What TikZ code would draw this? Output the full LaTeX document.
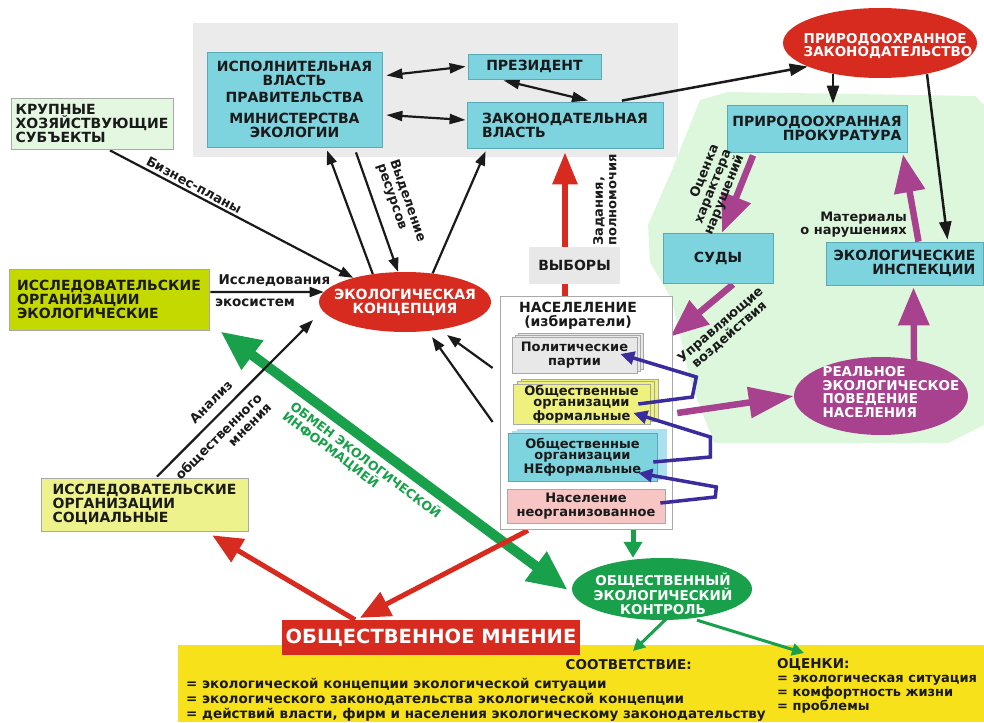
\documentclass[tikz,border=0pt]{standalone}
\usepackage{fontspec}
\setmainfont{DejaVu Sans}
\usetikzlibrary{arrows.meta,shapes.geometric,shadows}
\pgfdeclarelayer{bg}
\pgfdeclarelayer{arr}
\pgfdeclarelayer{fg}
\pgfsetlayers{bg,arr,main,fg}
\definecolor{cyanbox}{HTML}{7DD3DE}
\definecolor{cyanedge}{HTML}{5AA9B5}
\definecolor{redc}{HTML}{D72B1F}
\definecolor{purp}{HTML}{A8428F}
\definecolor{greenc}{HTML}{19A04B}
\definecolor{lgreen}{HTML}{DDF7DC}
\definecolor{govgray}{HTML}{EBEBEB}
\definecolor{yel}{HTML}{F7E11B}
\definecolor{lime}{HTML}{C4D900}
\definecolor{paleyel}{HTML}{EEF28C}
\definecolor{krupg}{HTML}{E3F7E1}
\definecolor{partg}{HTML}{E8E8E8}
\definecolor{formy}{HTML}{EFF17E}
\definecolor{pinkb}{HTML}{F8C5C5}
\definecolor{shblue}{HTML}{ABE0F0}
\definecolor{indig}{HTML}{3A2B9E}
\definecolor{edgeg}{HTML}{A8A8A8}
\definecolor{txt}{HTML}{1A1A1A}
\newcommand\dgCap{\fontsize{14}{14}\selectfont\bfseries}
\newcommand\dgCapS{\fontsize{13.5}{13.5}\selectfont\bfseries}
\newcommand\dgSm{\fontsize{13}{13.5}\selectfont\bfseries}
\newcommand\dgOrg{\fontsize{13}{11}\selectfont\bfseries}
\tikzset{
  cbox/.style={rectangle, draw=cyanedge, line width=0.8pt, fill=cyanbox, inner sep=0pt, font=\dgCap, text=txt},
  gbox/.style={rectangle, draw=edgeg, line width=0.8pt, inner sep=0pt, font=\dgCap, text=txt},
  sbox/.style={rectangle, draw=edgeg, line width=0.6pt, inner sep=0pt, font=\dgSm, text=txt},
  wtext/.style={inner sep=0pt, text=white, font=\dgCap},
  lbl/.style={inner sep=0pt, font=\dgSm, text=txt},
  oval/.style={ellipse, inner sep=0pt, draw=none},
  blk/.style={draw=txt, line width=2.2pt, -{Triangle[length=14pt,width=10pt]}},
  blkd/.style={draw=txt, line width=2.2pt, {Triangle[length=16pt,width=10pt]}-{Triangle[length=16pt,width=10pt]}},
  pa/.style={draw=purp, line width=6.5pt, -{Triangle[length=38pt,width=30pt]}},
  ra/.style={draw=redc, line width=5pt, -{Triangle[length=30pt,width=26pt]}},
  ba/.style={draw=indig, line width=3.5pt, -{Triangle[length=14pt,width=13pt]}},
  ga/.style={draw=greenc, line width=3pt, -{Triangle[length=12pt,width=12pt]}},
}
\begin{document}
\begin{tikzpicture}[x=1pt,y=-1pt]
\path[use as bounding box] (0,0) rectangle (984,722);
% backgrounds
\begin{pgfonlayer}{bg}
\fill[govgray] (193,23) rectangle (678,157);
\fill[lgreen] (700,100) -- (728,92) -- (975,96) -- (984,105) -- (984,425) -- (948,443) -- (714,443) -- (690,380) -- (672,300) -- (650,262) -- (648,225) -- (672,170) -- cycle;
\fill[yel] (178,645) rectangle (984,722);
\end{pgfonlayer}

% nodes
\node[cbox, minimum width=175pt, minimum height=95pt, align=center] (ispol) at (294.5,99.5) {ИСПОЛНИТЕЛЬНАЯ\\ВЛАСТЬ\\[3pt]ПРАВИТЕЛЬСТВА\\[7pt]МИНИСТЕРСТВА\\ЭКОЛОГИИ};
\node[cbox, minimum width=133pt, minimum height=25pt] (prez) at (534.5,66.5) {ПРЕЗИДЕНТ};
\node[cbox, minimum width=196pt, minimum height=46pt, align=left] (zak) at (565,125) {ЗАКОНОДАТЕЛЬНАЯ\\ВЛАСТЬ};
\node[oval, fill=redc, minimum width=194pt, minimum height=70pt] (zakon) at (880,43) {};
\node[wtext, font=\dgCapS, align=left] (zakont) at (888,46) {ПРИРОДООХРАННОЕ\\ЗАКОНОДАТЕЛЬСТВО};
\node[cbox, minimum width=180pt, minimum height=47pt, align=right] (prok) at (817,128.5) {ПРИРОДООХРАННАЯ\\ПРОКУРАТУРА};
\node[cbox, minimum width=110pt, minimum height=50pt] (sudy) at (718,258) {СУДЫ};
\node[cbox, minimum width=157pt, minimum height=43pt, align=right] (insp) at (904.5,263.5) {ЭКОЛОГИЧЕСКИЕ\\ИНСПЕКЦИИ};
\node[oval, fill=purp, minimum width=174pt, minimum height=78pt] (real) at (881,396) {};
\node[wtext, font=\dgCapS, align=left] (realt) at (891,392) {РЕАЛЬНОЕ\\ЭКОЛОГИЧЕСКОЕ\\ПОВЕДЕНИЕ\\НАСЕЛЕНИЯ};
\node[gbox, fill=krupg, minimum width=162pt, minimum height=51pt, align=left] (krup) at (92,123.5) {КРУПНЫЕ\\ХОЗЯЙСТВУЮЩИЕ\\СУБЪЕКТЫ};
\node[gbox, fill=lime, minimum width=200pt, minimum height=61pt, align=left] (issleko) at (109,299.5) {ИССЛЕДОВАТЕЛЬСКИЕ\\ОРГАНИЗАЦИИ\\ЭКОЛОГИЧЕСКИЕ};
\node[gbox, fill=paleyel, minimum width=207pt, minimum height=53pt, align=left] (isslsoc) at (144.5,504.5) {ИССЛЕДОВАТЕЛЬСКИЕ\\ОРГАНИЗАЦИИ\\СОЦИАЛЬНЫЕ};
\node[oval, fill=redc, minimum width=172pt, minimum height=60pt] (konc) at (405,302) {};
\node[wtext, align=center] (konct) at (405,302) {ЭКОЛОГИЧЕСКАЯ\\КОНЦЕПЦИЯ};
\node[rectangle, fill=partg, inner sep=0pt, minimum width=91pt, minimum height=37pt, font=\dgCap, text=txt] (vyb) at (574.5,265.5) {ВЫБОРЫ};
\node[rectangle, draw=edgeg, line width=0.8pt, fill=white, minimum width=172pt, minimum height=233pt] (pop) at (586,412.5) {};
\node[lbl, font=\dgCap, align=center] (popt) at (578,316) {НАСЕЛЕЛЕНИЕ\\(избиратели)};
\node[sbox, fill=partg, minimum width=125pt, minimum height=36pt, align=center, double copy shadow={shadow xshift=3pt, shadow yshift=2pt, fill=partg, draw=edgeg}] (part) at (574.5,355) {Политические\\партии};
\node[sbox, fill=formy, font=\dgOrg, minimum width=137pt, minimum height=40pt, align=center, double copy shadow={shadow xshift=4pt, shadow yshift=2.5pt, fill=formy, draw=edgeg}] (formal) at (581.5,404) {Общественные\\организации\\формальные};
\node[sbox, fill=cyanbox, draw=cyanedge, font=\dgOrg, minimum width=149pt, minimum height=48pt, align=center, double copy shadow={shadow xshift=4.5pt, shadow yshift=2pt, fill=shblue, draw=shblue}] (informal) at (582.5,457) {Общественные\\организации\\НЕформальные};
\node[sbox, fill=pinkb, font=\fontsize{13}{14}\selectfont\bfseries, minimum width=158pt, minimum height=34pt, align=center] (unorg) at (586,506) {Население\\неорганизованное};
\node[rectangle, fill=redc, inner sep=0pt, minimum width=298pt, minimum height=35pt, text=white, font=\fontsize{19.5}{20}\selectfont\bfseries] (mnen) at (431,637.5) {ОБЩЕСТВЕННОЕ МНЕНИЕ};
\node[oval, fill=greenc, minimum width=180pt, minimum height=62pt] (kontr) at (662,589) {};
\node[wtext, font=\dgCapS, align=center] (kontrt) at (663,593.5) {ОБЩЕСТВЕННЫЙ\\ЭКОЛОГИЧЕСКИЙ\\КОНТРОЛЬ};

% bottom texts
\node[lbl, font=\dgCapS, anchor=base east] (soot) at (692,669) {СООТВЕТСТВИЕ:};
\node[lbl, font=\fontsize{13.5}{14}\selectfont\bfseries, anchor=base west] (s1) at (186,688) {= экологической концепции экологической ситуации};
\node[lbl, font=\fontsize{13.5}{14}\selectfont\bfseries, anchor=base west] (s2) at (186,703) {= экологического законодательства экологической концепции};
\node[lbl, font=\fontsize{13.5}{14}\selectfont\bfseries, anchor=base west] (s3) at (186,718) {= действий власти, фирм и населения экологическому законодательству};
\node[lbl, font=\dgCapS, anchor=base west] (ocen) at (777,668) {ОЦЕНКИ:};
\node[lbl, anchor=base west] (o1) at (777,682) {= экологическая ситуация};
\node[lbl, anchor=base west] (o2) at (777,696) {= комфортность жизни};
\node[lbl, anchor=base west] (o3) at (777,710) {= проблемы};
\coordinate (cSoot) at (633,651);
\coordinate (cOcen) at (804,653);

% labels
\node[lbl, rotate=-28] (bp) at (194,185) {Бизнес-планы};
\node[lbl, rotate=-71, align=left] (vr) at (401,203) {Выделение\\ресурсов};
\node[lbl, font=\fontsize{13.5}{14}\selectfont\bfseries] (is1) at (274.5,281) {Исследования};
\node[lbl, font=\fontsize{13.5}{14}\selectfont\bfseries] (is2) at (255,303) {экосистем};
\node[lbl, rotate=45] (an1) at (211,402) {Анализ};
\node[lbl, rotate=45, align=right] (an2) at (223,441) {общественного\\мнения};
\node[lbl, rotate=-37, align=left, text=greenc, font=\fontsize{12.5}{13}\selectfont\bfseries] (obm) at (362,465) {ОБМЕН ЭКОЛОГИЧЕСКОЙ\\ИНФОРМАЦИЕЙ};
\node[lbl, rotate=90, align=left] (zad) at (605,200) {Задания,\\полномочия};
\node[lbl, rotate=68, align=right] (oc) at (712,190) {Оценка\\характера\\нарушений};
\node[lbl, align=right, anchor=east] (mat) at (907,224.5) {Материалы\\о нарушениях};
\node[lbl, rotate=41, align=center] (upr) at (725,330) {Управляющие\\воздействия};

% connectors
\begin{pgfonlayer}{arr}
\draw[blkd] ([shift={(4,-24)}]ispol.east) -- ([shift={(-2,0)}]prez.west);
\draw[blkd] ([shift={(4,15.5)}]ispol.east) -- ([shift={(-1,-5)}]zak.west);
\draw[blkd] ([shift={(-31,1)}]prez.south) -- ([shift={(23,-1)}]zak.north);
\draw[blk, line width=2.5pt, -{Triangle[length=18pt,width=12pt]}] ([shift={(57,-1)}]zak.north) -- (zakon.198);
\draw[blk, line width=2.5pt, -{Triangle[length=18pt,width=12pt]}] ([shift={(-47,-4)}]zakon.south) -- ([shift={(16,-1)}]prok.north);
\draw[blk, line width=2.5pt, -{Triangle[length=18pt,width=12pt]}] ([shift={(47,-4)}]zakon.south) -- ([shift={(43,-2)}]insp.north);
\draw[pa] ([shift={(-64,3)}]prok.south) -- ([shift={(4,0)}]sudy.north);
\draw[pa] ([shift={(14,0)}]insp.north) -- ([shift={(86,2)}]prok.south);
\draw[pa] ([shift={(33,3)}]real.north) -- ([shift={(9,2)}]insp.south);
\draw[pa] ([shift={(15,1)}]sudy.south) -- ([shift={(-2,41)}]pop.north east);
\draw[pa, -{Triangle[length=45pt,width=30pt]}] ([shift={(27,9)}]formal.east) -- (real.west);
\draw[draw=redc, line width=6pt, -{Triangle[length=32pt,width=24pt]}] ([shift={(-21,0)}]pop.north) -- ([shift={(0,4)}]zak.south);
\draw[blk] ([shift={(18,1)}]krup.south) -- (konc.155);
\draw[blk] (konc.139) -- ([shift={(32.5,3)}]ispol.south);
\draw[blk] ([shift={(61.5,5)}]ispol.south) -- (konc.103);
\draw[blk] (konc.46) -- ([shift={(19,3)}]zak.south west);
\draw[blk] ([shift={(1,-7.5)}]issleko.east) -- (konc.173);
\draw[draw=greenc, line width=10pt, {Triangle[length=40pt,width=34pt]}-{Triangle[length=40pt,width=34pt]}] ([shift={(11,1)}]issleko.south east) -- ([shift={(-4,1)}]kontr.west);
\draw[blk] ([shift={(12.5,-1)}]isslsoc.north) -- ([shift={(-92,18)}]konc.center);
\draw[blk] ([shift={(-7,-44.5)}]pop.west) -- ([shift={(42,33)}]konc.center);
\draw[blk] ([shift={(-7,9.5)}]pop.west) -- ([shift={(27,35)}]konc.center);
\draw[ra] ([shift={(-76,0)}]mnen.north) -- ([shift={(-36,4)}]isslsoc.south east);
\draw[ra] ([shift={(-58,1)}]pop.south) -- ([shift={(-71,-2)}]mnen.north);
\draw[draw=greenc, line width=5pt, -{Triangle[length=16pt,width=18pt]}] ([shift={(47,1)}]pop.south) -- ([shift={(-29,0)}]kontr.north);
\draw[ga] ([shift={(5,-2)}]kontr.south) -- (cSoot);
\draw[ga] ([shift={(35,0)}]kontr.south) -- (cOcen);
\end{pgfonlayer}
\begin{pgfonlayer}{fg}
\draw[ba] ([shift={(-12,0)}]formal.east) -- ++(54,-7) -- ++(4,-20) -- ([shift={(-17,-1)}]part.east);
\draw[ba] ([shift={(-4,5)}]informal.east) -- ++(57,-5) -- ++(0,-20) -- ([shift={(-17,9)}]formal.east);
\draw[ba] ([shift={(-5,-3)}]unorg.east) -- ++(55,-6) -- ++(1,-10) -- ([shift={(-19,16)}]informal.east);
\end{pgfonlayer}
\end{tikzpicture}
\end{document}
